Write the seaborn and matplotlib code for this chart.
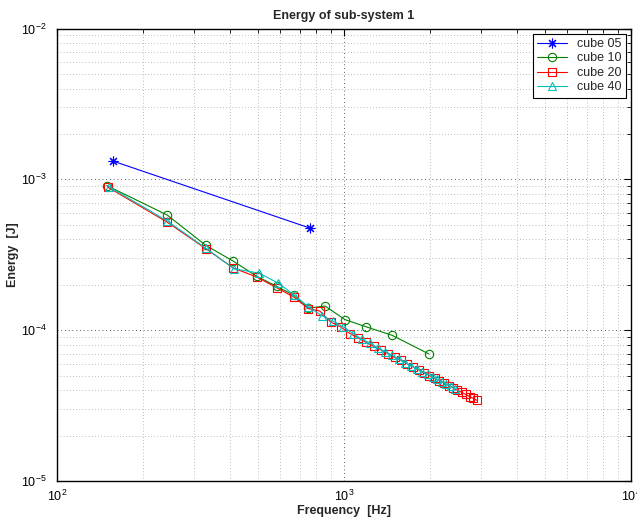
import matplotlib
matplotlib.use("Agg")
import matplotlib.pyplot as plt
import matplotlib.ticker as mticker
import seaborn as sns
import pandas as pd

# Frequencies [Hz] and energies [J] of sub-system 1 for each mesh size
cube05_freq = [157, 761]
cube05_energy = [1.32e-3, 4.75e-4]

cube10_freq = [149, 242, 330, 411, 496, 583, 670, 751, 859, 1008, 1190, 1472, 1977]
cube10_energy = [9.1e-4, 5.8e-4, 3.65e-4, 2.87e-4, 2.28e-4, 1.95e-4, 1.70e-4,
                 1.40e-4, 1.445e-4, 1.175e-4, 1.055e-4, 9.24e-5, 6.95e-5]

cube20_freq = [150, 242, 330, 412, 497, 583, 668, 750, 823, 900, 975, 1048, 1120,
               1195, 1270, 1345, 1420, 1500, 1580, 1660, 1740, 1820, 1900, 1985,
               2070, 2150, 2235, 2320, 2400, 2485, 2570, 2655, 2740, 2820, 2900]
cube20_energy = [8.9e-4, 5.2e-4, 3.47e-4, 2.58e-4, 2.25e-4, 1.91e-4, 1.66e-4,
                 1.39e-4, 1.34e-4, 1.13e-4, 1.05e-4, 9.5e-5, 8.9e-5, 8.3e-5,
                 7.8e-5, 7.4e-5, 7.0e-5, 6.6e-5, 6.3e-5, 6.0e-5, 5.7e-5, 5.45e-5,
                 5.2e-5, 5.0e-5, 4.8e-5, 4.62e-5, 4.45e-5, 4.29e-5, 4.14e-5,
                 4.0e-5, 3.87e-5, 3.75e-5, 3.63e-5, 3.53e-5, 3.43e-5]

cube40_freq = [152, 242, 330, 414, 506, 590, 671, 751, 836, 913, 995, 1075, 1155,
               1235, 1315, 1395, 1475, 1555, 1635, 1715, 1795, 1875, 1955, 2035,
               2115, 2195, 2275, 2355, 2435]
cube40_energy = [8.9e-4, 5.3e-4, 3.5e-4, 2.55e-4, 2.39e-4, 2.05e-4, 1.71e-4,
                 1.43e-4, 1.25e-4, 1.15e-4, 1.05e-4, 9.5e-5, 8.7e-5, 8.2e-5,
                 7.6e-5, 7.2e-5, 6.8e-5, 6.4e-5, 6.1e-5, 5.8e-5, 5.55e-5, 5.3e-5,
                 5.1e-5, 4.9e-5, 4.72e-5, 4.55e-5, 4.4e-5, 4.25e-5, 4.1e-5]

ASTERISK = (8, 2, 0)  # eight-armed asterisk marker
series = [
    ("cube 05", cube05_freq, cube05_energy, "#0000ff", ASTERISK),
    ("cube 10", cube10_freq, cube10_energy, "#008000", "o"),
    ("cube 20", cube20_freq, cube20_energy, "#ff0000", "s"),
    ("cube 40", cube40_freq, cube40_energy, "#00bfbf", "^"),
]

sns.set_style("white")
plt.rcParams["font.family"] = ["Liberation Sans", "DejaVu Sans"]
plt.rcParams["mathtext.fontset"] = "custom"
plt.rcParams["mathtext.rm"] = "Liberation Sans"

fig = plt.figure(figsize=(6.37, 5.23), dpi=100)
ax = fig.add_axes([57 / 637, 42 / 523, 574 / 637, 452.5 / 523])

for name, f, e, col, mk in series:
    df = pd.DataFrame({"freq": f, "energy": e})
    sns.lineplot(data=df, x="freq", y="energy", ax=ax, color=col, marker=mk,
                 markersize=7 if mk == ASTERISK else 6,
                 markerfacecolor="none", markeredgecolor=col,
                 markeredgewidth=0.8, linewidth=0.8,
                 sort=False, label=name, estimator=None)

ax.set_xscale("log")
ax.set_yscale("log")
ax.set_xlim(1e2, 1e4)
ax.set_ylim(1e-5, 1e-2)

# dotted decade and sub-decade grid lines
ax.grid(True, which="major", color="k", linestyle=(0, (1, 3.5)), linewidth=0.6, alpha=0.85)
ax.grid(True, which="minor", color="k", linestyle=(0, (1, 3.5)), linewidth=0.5, alpha=0.5)
ax.xaxis.set_minor_formatter(mticker.NullFormatter())
ax.yaxis.set_minor_formatter(mticker.NullFormatter())
ax.tick_params(which="both", direction="in", top=True, right=True, labelsize=9, colors="k")
ax.tick_params(which="major", length=5, width=0.8)
ax.tick_params(which="minor", length=3, width=0.6)
ax.tick_params(axis="x", which="major", pad=5.5)
ax.tick_params(axis="y", which="major", pad=7.5)
for sp in ax.spines.values():
    sp.set_color("k")
    sp.set_linewidth(1.0)

ax.set_title("Energy of sub-system 1", fontsize=9, fontweight="bold", pad=7)
ax.set_xlabel("Frequency  [Hz]", fontsize=9, fontweight="bold", labelpad=1)
ax.set_ylabel("Energy  [J]", fontsize=9, fontweight="bold", labelpad=1)

leg = ax.legend(loc="upper right", fontsize=9, frameon=True, fancybox=False,
                edgecolor="k", framealpha=1, borderaxespad=0.4, handlelength=2.4,
                labelspacing=0.2, borderpad=0.35)
leg.get_frame().set_linewidth(0.8)

fig.savefig("out.png", dpi=100)
